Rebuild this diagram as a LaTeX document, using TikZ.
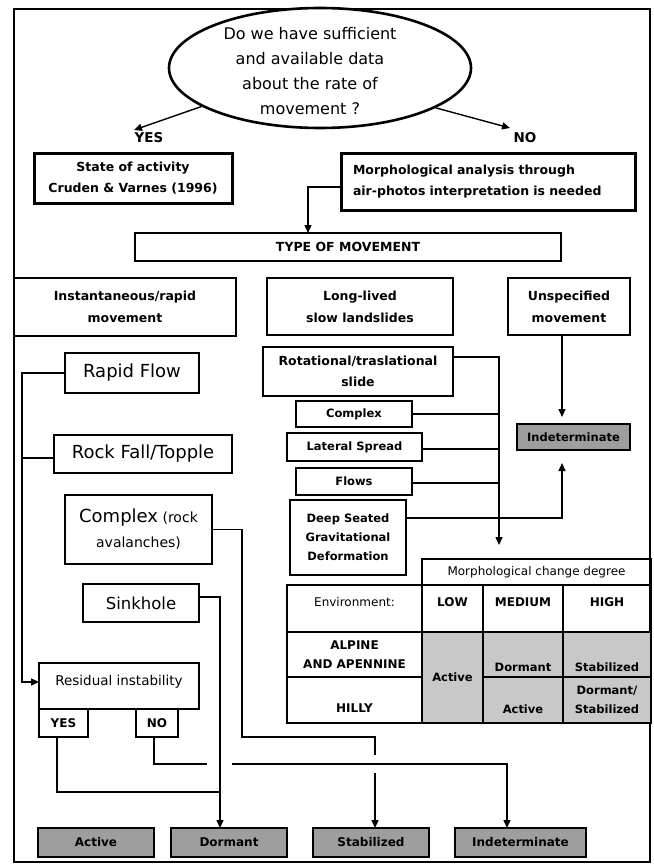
\documentclass[tikz,border=0pt]{standalone}
\usepackage{fontspec}
\setmainfont{DejaVu Sans}
\usetikzlibrary{arrows.meta,shapes.geometric}
\definecolor{gdark}{RGB}{158,158,158}
\definecolor{glight}{RGB}{200,200,200}
\newcommand\mybox[7]{\node[#6,minimum width={(#4-#2)*1pt},minimum height={(#5-#3)*1pt}] (#1) at ({(#2+#4)/2},{(#3+#5)/2}) {#7};}
\begin{document}
\begin{tikzpicture}[x=1pt,y=-1pt,
  conn/.style={line width=1.4pt},
  arr/.style={conn,-{Triangle[length=8pt,width=7pt]}},
  bx/.style={draw,line width=1.5pt,inner sep=0pt,outer sep=0pt,align=center,font=\fontsize{12.5}{22}\selectfont\bfseries},
  thk/.style={bx,line width=3pt},
  sm/.style={bx,font=\fontsize{11.5}{19}\selectfont\bfseries},
  big/.style={bx,font=\fontsize{18}{22}\selectfont},
  gbx/.style={bx,fill=gdark,line width=2pt,font=\fontsize{12}{14}\selectfont\bfseries},
  cell/.style={draw,line width=1.5pt,inner sep=0pt,outer sep=0pt,align=center,font=\fontsize{12}{19}\selectfont\bfseries},
  ttxt/.style={inner sep=0pt,align=center,font=\fontsize{11.5}{19}\selectfont\bfseries},
  lbl/.style={inner sep=0pt,font=\fontsize{13.5}{16}\selectfont\bfseries}
]
\useasboundingbox (0,0) rectangle (653,864);
\draw[line width=1.2pt] (14,9) rectangle (650,862);

% question
\node[ellipse,draw,line width=2.6pt,fill=white,minimum width=302pt,minimum height=120pt,inner sep=0pt] (q) at (320,68) {};
\node[inner sep=0pt,align=center,font=\fontsize{16}{25}\selectfont] (qt) at (310,71) {Do we have sufficient\\and available data\\about the rate of\\movement ?};
\node[lbl] (yes) at (149,138) {YES};
\node[lbl] (no) at (525,138) {NO};
\coordinate (yt) at (134,130);
\coordinate (nt) at (510,128);
\draw[arr] (q.198) -- (yt);
\draw[arr] (q.341) -- (nt);

% boxes
\mybox{state}{34}{153}{232}{203}{thk,font=\fontsize{12.5}{21}\selectfont\bfseries}{State of activity\\Cruden \& Varnes (1996)}
\mybox{morph}{341}{153}{635}{210}{thk,align=left,text width=270pt,inner xsep=12pt,font=\fontsize{12.5}{21}\selectfont\bfseries}{Morphological analysis through\\air-photos interpretation is needed}
\mybox{type}{135}{233}{561}{261}{bx}{TYPE OF MOVEMENT}
\mybox{inst}{14}{278}{236}{336}{bx}{Instantaneous/rapid\\movement}
\mybox{long}{267}{278}{453}{335}{bx}{Long-lived\\slow landslides}
\mybox{unsp}{508}{278}{630}{335}{bx}{Unspecified\\movement}
\mybox{rot}{263}{347}{453}{396}{bx,font=\fontsize{12.5}{21}\selectfont\bfseries}{Rotational/traslational\\slide}
\mybox{cplx}{296}{401}{412}{427}{sm}{Complex}
\mybox{lat}{287}{433}{422}{461}{sm}{Lateral Spread}
\mybox{flows}{296}{468}{412}{495}{sm}{Flows}
\mybox{deep}{290}{500}{406}{575}{sm}{Deep Seated\\Gravitational\\Deformation}
\mybox{indr}{517}{424}{630}{450}{gbx,font=\fontsize{11.5}{14}\selectfont\bfseries}{Indeterminate}
\mybox{rapid}{65}{353}{199}{393}{big}{Rapid Flow}
\mybox{rock}{54}{435}{232}{473}{big}{Rock Fall/Topple}
\mybox{cra}{65}{495}{212}{564}{bx,font=\fontsize{14}{25}\selectfont}{{\fontsize{18}{25}\selectfont Complex} (rock\\avalanches)}
\mybox{sink}{83}{584}{199}{622}{bx,font=\fontsize{16.5}{20}\selectfont}{Sinkhole}
\mybox{resid}{39}{663}{199}{709}{bx,text depth=11pt,font=\fontsize{13.5}{16}\selectfont}{Residual instability}
\mybox{ryes}{39}{709}{88}{737}{bx,font=\fontsize{12}{14}\selectfont\bfseries}{YES}
\mybox{rno}{136}{709}{178}{737}{bx,font=\fontsize{12}{14}\selectfont\bfseries}{NO}
\mybox{act}{38}{828}{154}{857}{gbx}{Active}
\mybox{dor}{171}{828}{287}{857}{gbx}{Dormant}
\mybox{stb}{313}{828}{429}{857}{gbx}{Stabilized}
\mybox{ind}{455}{828}{586}{857}{gbx}{Indeterminate}

% table
\mybox{mhead}{422}{559}{651}{585}{cell,font=\fontsize{12}{14}\selectfont}{Morphological change degree}
\mybox{env}{287}{585}{422}{632}{cell}{}
\mybox{low}{422}{585}{483}{632}{cell}{}
\mybox{med}{483}{585}{563}{632}{cell}{}
\mybox{high}{563}{585}{651}{632}{cell}{}
\mybox{alp}{287}{632}{422}{677}{cell,font=\fontsize{12}{19}\selectfont\bfseries}{ALPINE\\AND APENNINE}
\mybox{hil}{287}{677}{422}{723}{cell}{}
\mybox{lowd}{422}{632}{483}{723}{cell,fill=glight,font=\fontsize{11.5}{14}\selectfont\bfseries}{Active}
\mybox{meda}{483}{632}{563}{677}{cell,fill=glight}{}
\mybox{medh}{483}{677}{563}{723}{cell,fill=glight}{}
\mybox{higha}{563}{632}{651}{677}{cell,fill=glight}{}
\mybox{highh}{563}{677}{651}{723}{cell,fill=glight,font=\fontsize{11.5}{19}\selectfont\bfseries}{Dormant/\\Stabilized}
\node[ttxt,font=\fontsize{12}{14}\selectfont] (tenv) at (env.center |- 0,602) {Environment:};
\node[ttxt,font=\fontsize{12}{14}\selectfont\bfseries] (tlow) at (low.center |- 0,602) {LOW};
\node[ttxt,font=\fontsize{12}{14}\selectfont\bfseries] (tmed) at (med.center |- 0,602) {MEDIUM};
\node[ttxt,font=\fontsize{12}{14}\selectfont\bfseries] (thigh) at (high.center |- 0,602) {HIGH};
\node[ttxt,font=\fontsize{12}{14}\selectfont\bfseries] (thil) at (hil.center |- 0,708) {HILLY};
\node[ttxt] (tmeda) at (meda.center |- 0,667) {Dormant};
\node[ttxt] (tmedh) at (medh.center |- 0,709) {Active};
\node[ttxt] (thigha) at (higha.center |- 0,667) {Stabilized};

% connectors
\draw[arr] (morph.west |- 0,187) -| (308,0 |- type.north);
\draw[arr] (rapid.west) -| (22,682) -- ([yshift=4pt]resid.west);
\draw[conn] ([yshift=-4pt]rock.west) -- (22,458);
\draw[conn] (cra.east) -| (242,737) -- (375,737) -- (375,755);
\coordinate (hopA) at (375,773);
\draw[arr] (hopA) -- (375,0 |- stb.north);
\draw[arr] ([yshift=6pt]sink.east) -| (220,0 |- dor.north);
\draw[conn] (57,0 |- ryes.south) |- (220,792);
\draw[conn] (154,0 |- rno.south) |- (207,764);
\coordinate (hopB) at (232,764);
\draw[arr] (hopB) -| (507,0 |- ind.north);
\draw[arr] ([yshift=14.5pt]rot.east) -| (499,545);
\draw[conn] (cplx.east) -- (499,0 |- cplx.east);
\draw[conn] ([yshift=-2pt]lat.east) -- (499,449);
\draw[conn] ([yshift=-1.5pt]flows.east) -- (499,483);
\draw[arr,shorten >=13pt] ([yshift=19.5pt]deep.east) -| (562,0 |- indr.south);
\draw[arr,shorten >=7pt] (562,0 |- unsp.south) -- (562,0 |- indr.north);
\end{tikzpicture}
\end{document}
